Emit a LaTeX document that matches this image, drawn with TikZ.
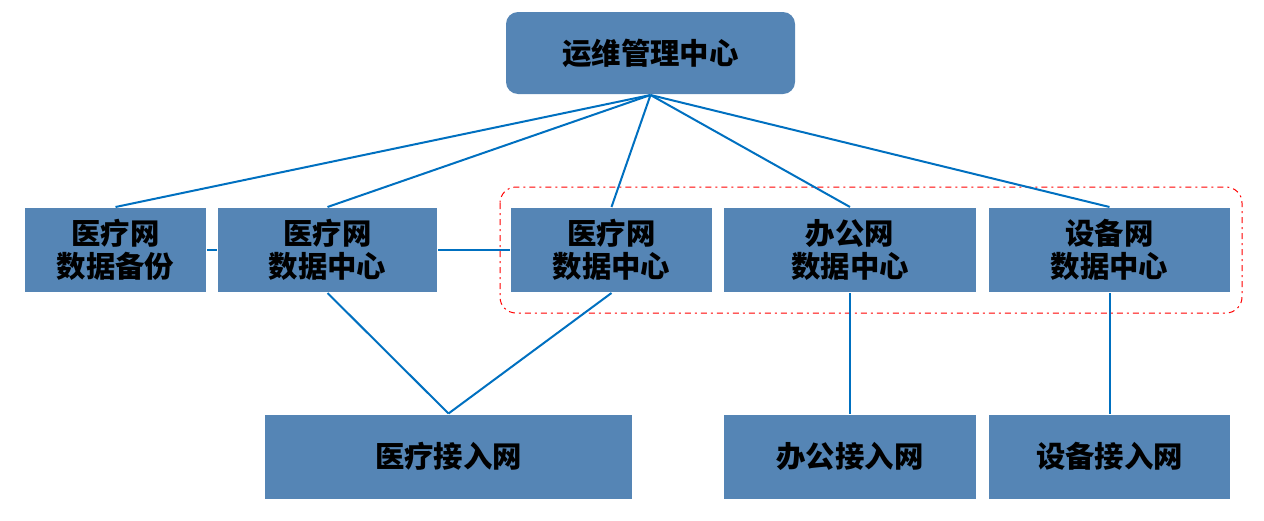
\documentclass[tikz,border=0pt]{standalone}
\usepackage{fontspec}
\usepackage{tikz}
\usetikzlibrary{positioning}
\newfontfamily\cjk{Noto Sans CJK SC}[BoldFont={Noto Sans CJK SC Black}]
\definecolor{boxblue}{HTML}{5585B5}
\definecolor{linkblue}{HTML}{0070C0}

\begin{document}
\begin{tikzpicture}[x=0.5pt,y=-0.5pt,line width=1pt,
	main node/.style={rectangle,fill=boxblue,inner sep=0pt,minimum height=42pt,align=center,font=\cjk\bfseries\fontsize{14.7}{16.8}\selectfont},
	link/.style={draw=linkblue},
	groupbox/.style={draw=red,dash dot,line width=0.5pt,rounded corners=8pt}]
	\useasboundingbox (0,0) rectangle (1264,520);

	\node[main node,rounded corners=6pt,minimum width=144.5pt,minimum height=41pt] (top) at (650.5,53) {运维管理中心};

	\node[main node,minimum width=90.5pt] (bak) at (115.5,250) {医疗网\\数据备份};
	\node[main node,minimum width=109.5pt] (med1) at (327.5,250) {医疗网\\数据中心};
	\node[main node,minimum width=100.5pt] (med2) at (611.5,250) {医疗网\\数据中心};
	\node[main node,minimum width=126pt] (off) at (850,250) {办公网\\数据中心};
	\node[main node,minimum width=120.5pt] (dev) at (1109.5,250) {设备网\\数据中心};

	\node[main node,minimum width=183.5pt] (medacc) at (448.5,456.5) {医疗接入网};
	\node[main node,minimum width=126pt] (offacc) at (850,456.5) {办公接入网};
	\node[main node,minimum width=120.5pt] (devacc) at (1109.5,456.5) {设备接入网};

	\draw[groupbox] (500,187) rectangle (1242,313);

	\path[link]
		(top.south) edge (bak.north)
			edge (med1.north)
			edge (med2.north)
			edge (off.north)
			edge (dev.north)
		(bak.east) edge (med1.west)
		(med1.east) edge (med2.west)
		(med1.south) edge (medacc.north)
		(med2.south) edge (medacc.north)
		(off.south) edge (offacc.north)
		(dev.south) edge (devacc.north);
\end{tikzpicture}
\end{document}
